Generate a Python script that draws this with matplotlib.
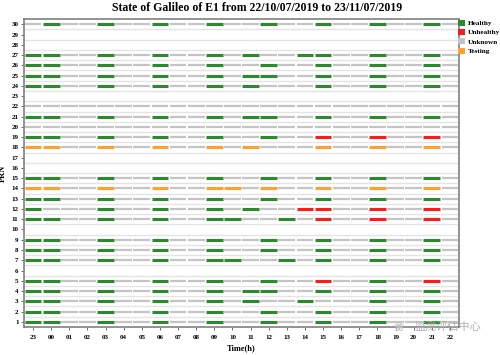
import matplotlib
matplotlib.use("Agg")
import matplotlib.pyplot as plt
from matplotlib.patches import Patch

# ---- data ----
hour_labels = ["23", "00", "01", "02", "03", "04", "05", "06", "07", "08", "09", "10",
               "11", "12", "13", "14", "15", "16", "17", "18", "19", "20", "21", "22"]
prn_ticks = list(range(1, 31))

# state codes per hour slot: G=Healthy, R=Unhealthy, U=Unknown, T=Testing
prn_states = {
    30: "UGUUGUUGUUGUUGUUGUUGUUGU",
    27: "GGUUGUUGUUGUGUUGGUUGUUGU",
    26: "GGUUGUUGUUGUUGUUGUUGUUGU",
    25: "GGUUGUUGUUGUGGUUGUUGUUGU",
    24: "GGUUGUUGUUGUGUUUGUUGUUGU",
    22: "UUUUUUUUUUUUUUUUUUUUUUUU",
    21: "GGUUGUUGUUGUGGUUGUUGUUGU",
    20: "UUUUUUUUUUUUUUUUUUUUUUUU",
    19: "GGUUGUUGUUGUUGUURUURUURU",
    18: "TTUUTUUTUUTUTUUUTUUTUUTU",
    15: "GGUUGUUGUUGUUGUUGUUGUUGU",
    14: "TTUUTUUTUUTTUTUUTUUTUUTU",
    13: "GGUUGUUGUUGUUGUUGUUGUUGU",
    12: "GUUUGUUGUUGUGUURRUURUURU",
    11: "GGUUGUUGUUGGUUGURUURUURU",
    9:  "GGUUGUUGUUGUUGUUGUUGUUGU",
    8:  "GGUUGUUGUUGUUGUUGUUGUUGU",
    7:  "GGUUGUUGUUGGUUGUGUUGUUGU",
    5:  "GGUUGUUGUUGUUGUURUUGUURU",
    4:  "GGUUGUUGUUGUGGUUGUUGUUGU",
    3:  "GGUUGUUGUUGUGUUGUUUGUUGU",
    2:  "GGUUGUUGUUGUUGUUGUUGUUGU",
    1:  "GGUUGUUGUUGUUGUUGUUGUUGU",
}
state_names = {"G": "Healthy", "R": "Unhealthy", "U": "Unknown", "T": "Testing"}
state_colors = {"G": "#2b8a2b", "R": "#ff1a1a", "U": "#c4c4c4", "T": "#ffa030"}
legend_order = ["G", "R", "U", "T"]

title = "State of Galileo of E1 from 22/10/07/2019 to 23/11/07/2019"

# ---- figure ----
plt.rcParams['font.family'] = ['Liberation Serif', 'DejaVu Serif']
plt.rcParams['font.weight'] = 'bold'

fig = plt.figure(figsize=(5.0, 3.55), dpi=100)
ax = fig.add_axes([0.048, 0.079, 0.870, 0.867])

n_hours = len(hour_labels)
# faint separators between rows
for y in range(1, 30):
    ax.axhline(y + 0.5, color="#e4e4e4", lw=1.0, zorder=1)

half = 0.46
for prn, s in prn_states.items():
    for k, code in enumerate(s):
        lw = 1.6 if code == "U" else 2.2
        ax.hlines(prn, k - half, k + half, colors=state_colors[code], lw=lw,
                  zorder=3 if code != "U" else 2)

ax.set_xlim(-0.5, n_hours - 0.5)
ax.set_ylim(0.5, 30.5)
ax.set_xticks(range(n_hours))
ax.set_xticklabels(hour_labels, fontsize=5, fontweight='bold')
ax.set_yticks(prn_ticks)
ax.set_yticklabels([str(p) for p in prn_ticks], fontsize=5, fontweight='bold')
ax.tick_params(axis='both', length=2, width=0.6, pad=2, color="#555555")
ax.tick_params(axis='x', pad=4)
for sp in ax.spines.values():
    sp.set_color("#808080")
    sp.set_linewidth(1.2)

ax.set_ylabel("PRN", fontsize=6, fontweight='bold', labelpad=3)
ax.set_xlabel("Time(h)", fontsize=6, fontweight='bold', labelpad=3)
fig.text(0.515, 0.978, title, ha='center', va='center', fontsize=8.5, fontweight='bold')

handles = [Patch(facecolor=state_colors[c], edgecolor='none', label=state_names[c]) for c in legend_order]
fig.legend(handles=handles, loc='upper left', bbox_to_anchor=(0.916, 0.945), frameon=False,
           fontsize=5.2, handlelength=0.9, handleheight=0.9, handletextpad=0.5,
           labelspacing=0.4, borderaxespad=0, borderpad=0)

# watermark
fig.text(0.797, 0.078, "\u2740", color="#bbbbbb", fontsize=9, ha='center', va='center',
         family=['DejaVu Sans'])
fig.text(0.895, 0.078, "监测评估中心", color="#b0b0b0", fontsize=8, ha='center', va='center',
         family=['Noto Sans CJK SC', 'DejaVu Sans'], fontweight='normal')

fig.savefig("out.png", dpi=100)
